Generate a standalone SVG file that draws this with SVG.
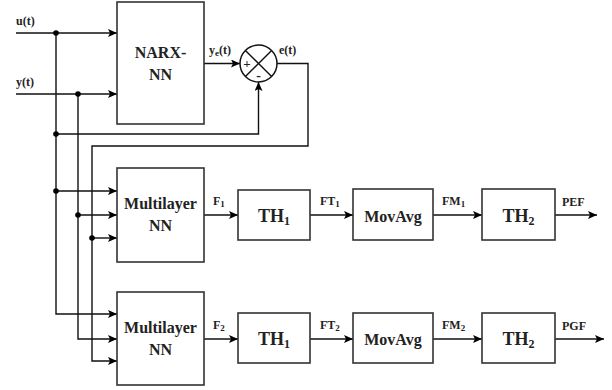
<svg xmlns="http://www.w3.org/2000/svg" width="612" height="390" viewBox="0 0 612 390">
<style>
.box{fill:#fff;stroke:#333;stroke-width:1.6}
.ln{fill:none;stroke:#111;stroke-width:1.4}
.t{font-family:"Liberation Serif",serif;font-weight:bold;fill:#222}
.s{font-size:12px}
.m{font-size:16px;text-anchor:middle}
.b{font-size:18px;text-anchor:middle}
.dot{fill:#000}
</style>
<defs>
<marker id="ar" markerWidth="10" markerHeight="8" refX="9" refY="4" orient="auto" markerUnits="userSpaceOnUse">
<path d="M0,0 L9,4 L0,8 L2,4 z" fill="#000"/>
</marker>
</defs>
<g id="connectors">
<path class="ln" d="M16,33 H117" marker-end="url(#ar)"/>
<path class="ln" d="M16,94 H117" marker-end="url(#ar)"/>
<path class="ln" d="M56,33 V314 H117" marker-end="url(#ar)"/>
<path class="ln" d="M78,94 V339 H117" marker-end="url(#ar)"/>
<path class="ln" d="M277,63.5 H308 V146 H92 V361 H117" marker-end="url(#ar)"/>
<path class="ln" d="M204,63.5 H240" marker-end="url(#ar)"/>
<path class="ln" d="M56,134 H258.5 V82" marker-end="url(#ar)"/>
<path class="ln" d="M56,191 H117" marker-end="url(#ar)"/>
<path class="ln" d="M78,215 H117" marker-end="url(#ar)"/>
<path class="ln" d="M92,238 H117" marker-end="url(#ar)"/>
<path class="ln" d="M204,215 H238" marker-end="url(#ar)"/>
<path class="ln" d="M310,215 H353" marker-end="url(#ar)"/>
<path class="ln" d="M433,215 H482" marker-end="url(#ar)"/>
<path class="ln" d="M555,215 H597" marker-end="url(#ar)"/>
<path class="ln" d="M204,339 H238" marker-end="url(#ar)"/>
<path class="ln" d="M310,339 H353" marker-end="url(#ar)"/>
<path class="ln" d="M433,339 H482" marker-end="url(#ar)"/>
<path class="ln" d="M555,339 H604" marker-end="url(#ar)"/>
<circle class="dot" cx="56" cy="33" r="2.8"/>
<circle class="dot" cx="78" cy="94" r="2.8"/>
<circle class="dot" cx="56" cy="134" r="2.8"/>
<circle class="dot" cx="56" cy="191" r="2.8"/>
<circle class="dot" cx="78" cy="215" r="2.8"/>
<circle class="dot" cx="92" cy="238" r="2.8"/>
<text class="t s" x="16" y="25">u(t)</text>
<text class="t s" x="16" y="86">y(t)</text>
<text class="t s" x="209" y="54">y<tspan font-size="9" dy="2">e</tspan><tspan dy="-2">(t)</tspan></text>
<text class="t s" x="279" y="54">e(t)</text>
<text class="t s" x="213" y="205">F<tspan font-size="9" dy="2">1</tspan></text>
<text class="t s" x="320" y="205">FT<tspan font-size="9" dy="2">1</tspan></text>
<text class="t s" x="442" y="205">FM<tspan font-size="9" dy="2">1</tspan></text>
<text class="t s" x="562" y="206">PEF</text>
<text class="t s" x="213" y="329">F<tspan font-size="9" dy="2">2</tspan></text>
<text class="t s" x="320" y="329">FT<tspan font-size="9" dy="2">2</tspan></text>
<text class="t s" x="442" y="329">FM<tspan font-size="9" dy="2">2</tspan></text>
<text class="t s" x="562" y="330">PGF</text>
</g>
<g id="narx">
<rect class="box" x="117" y="2" width="87" height="122"/>
<text class="t m" x="160.5" y="58">NARX-</text>
<text class="t m" x="160.5" y="80">NN</text>
</g>
<g id="sum">
<circle cx="258.5" cy="63.5" r="18.5" fill="#fff" stroke="#111" stroke-width="1.5"/>
<path class="ln" d="M245.4,50.4 L271.6,76.6 M271.6,50.4 L245.4,76.6"/>
<text class="t" x="247" y="68" font-size="13" text-anchor="middle">+</text>
<text class="t" x="258.5" y="80" font-size="14" text-anchor="middle">-</text>
</g>
<g id="mlnn1">
<rect class="box" x="117" y="168" width="87" height="94"/>
<text class="t m" x="160.5" y="209">Multilayer</text>
<text class="t m" x="160.5" y="231">NN</text>
</g>
<g id="th1a">
<rect class="box" x="238" y="190" width="72" height="50"/>
<text class="t b" x="274" y="222">TH<tspan font-size="12" dy="3">1</tspan></text>
</g>
<g id="mov1">
<rect class="box" x="353" y="189" width="80" height="51"/>
<text class="t m" x="393" y="222">MovAvg</text>
</g>
<g id="th2a">
<rect class="box" x="482" y="189" width="73" height="51"/>
<text class="t b" x="518.5" y="222">TH<tspan font-size="12" dy="3">2</tspan></text>
</g>
<g id="mlnn2">
<rect class="box" x="117" y="292" width="87" height="93"/>
<text class="t m" x="160.5" y="333">Multilayer</text>
<text class="t m" x="160.5" y="355">NN</text>
</g>
<g id="th1b">
<rect class="box" x="238" y="313" width="72" height="50"/>
<text class="t b" x="274" y="345">TH<tspan font-size="12" dy="3">1</tspan></text>
</g>
<g id="mov2">
<rect class="box" x="353" y="313" width="80" height="50"/>
<text class="t m" x="393" y="345">MovAvg</text>
</g>
<g id="th2b">
<rect class="box" x="482" y="313" width="73" height="50"/>
<text class="t b" x="518.5" y="345">TH<tspan font-size="12" dy="3">2</tspan></text>
</g>
</svg>
